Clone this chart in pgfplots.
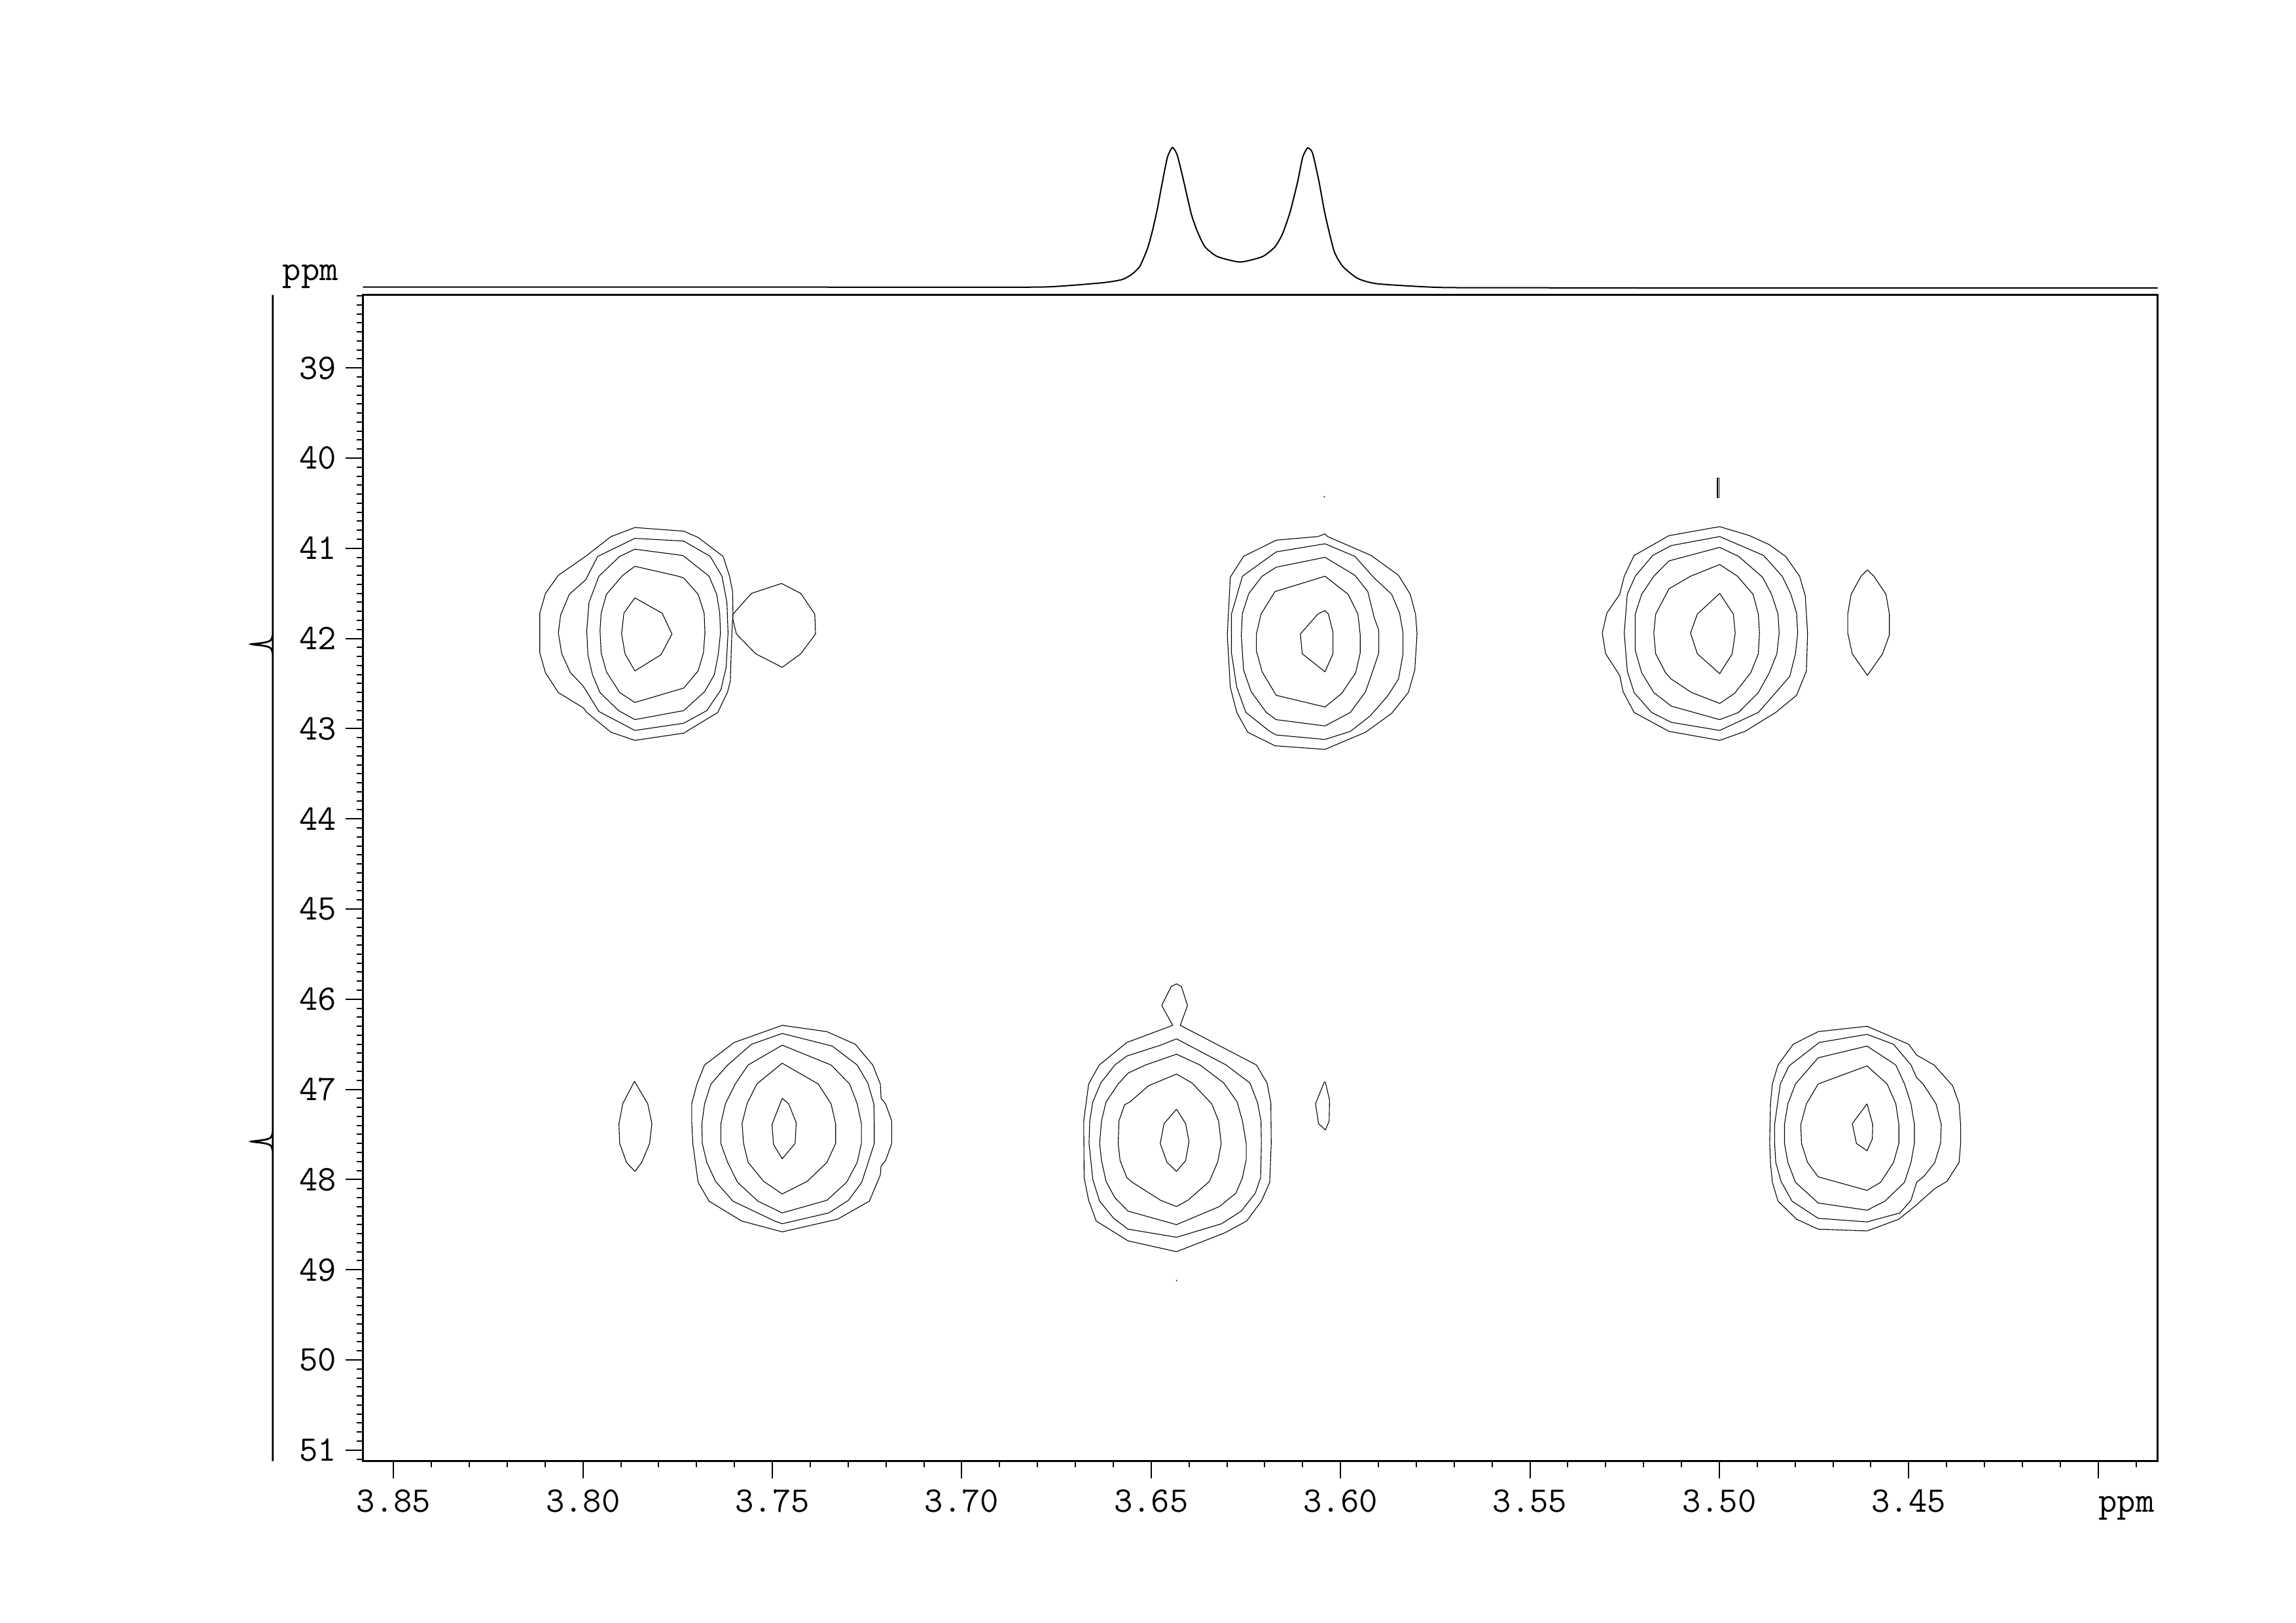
\documentclass[border=0pt]{standalone}
\usepackage{fontspec}
\usepackage{pgfplots}
\pgfplotsset{compat=1.18}
\pgfplotsset{cont/.style={black, line width=0.22pt, mark=none, line join=round}}
\begin{document}
\begin{tikzpicture}[font=\ttfamily\fontsize{11}{13}\selectfont]
\useasboundingbox (-110.9pt,-49.26pt) rectangle (590.7pt,446.54pt);
% ---------------- main 2D axis ----------------
\begin{axis}[at={(0pt,0pt)}, anchor=south west, scale only axis,
  width=548.4pt, height=356.4pt,
  x dir=reverse, y dir=reverse,
  xmin=3.3843, xmax=3.8581, ymin=38.191, ymax=51.123,
  axis line style={line width=0.5pt},
  tick pos=left, tick align=outside,
  major tick length=5.2pt, minor tick length=1.9pt,
  every tick/.style={black, line width=0.4pt},
  xtick={3.40,3.45,3.50,3.55,3.60,3.65,3.70,3.75,3.80,3.85},
  xticklabels={,3.45,3.50,3.55,3.60,3.65,3.70,3.75,3.80,3.85},
  minor xtick={3.39,3.40,...,3.851},
  ytick={39,40,41,42,43,44,45,46,47,48,49,50,51},
  yticklabels={39,40,41,42,43,44,45,46,47,48,49,50,51},
  minor ytick={38.2,38.3,...,51.11},
  xticklabel style={anchor=base, inner sep=0pt, yshift=-10.3pt, font=\ttfamily\fontsize{11}{13}\selectfont},
  yticklabel style={anchor=east, inner sep=0pt, xshift=-2.7pt, font=\ttfamily\fontsize{11}{13}\selectfont},
  clip=false]
% top-left peak
\addplot[cont] coordinates {(3.7863,40.77)(3.7734,40.81)(3.7696,40.88)(3.7630,41.09)(3.7613,41.31)(3.7605,41.48)(3.7604,41.72)(3.7607,41.94)(3.7611,42.47)(3.7618,42.59)(3.7644,42.82)(3.7734,43.05)(3.7863,43.13)(3.7926,43.04)(3.7990,42.82)(3.7999,42.77)(3.8065,42.60)(3.8099,42.38)(3.8114,42.16)(3.8114,41.72)(3.8099,41.50)(3.8065,41.30)(3.7990,41.08)(3.7926,40.87)(3.7863,40.77)};
\addplot[cont] coordinates {(3.7863,40.89)(3.7734,40.92)(3.7664,41.09)(3.7633,41.31)(3.7620,41.60)(3.7617,41.94)(3.7622,42.32)(3.7636,42.57)(3.7673,42.80)(3.7734,42.94)(3.7863,43.02)(3.7958,42.81)(3.7990,42.59)(3.8001,42.52)(3.8033,42.38)(3.8056,42.17)(3.8065,41.94)(3.8059,41.74)(3.8036,41.51)(3.7993,41.35)(3.7961,41.09)(3.7863,40.89)};
\addplot[cont] coordinates {(3.7863,41.01)(3.7736,41.08)(3.7667,41.31)(3.7647,41.51)(3.7639,41.72)(3.7637,41.94)(3.7643,42.18)(3.7653,42.40)(3.7679,42.59)(3.7734,42.80)(3.7863,42.90)(3.7906,42.80)(3.7955,42.60)(3.7975,42.40)(3.7987,42.18)(3.7990,41.91)(3.7984,41.60)(3.7958,41.31)(3.7903,41.09)(3.7863,41.01)};
\addplot[cont] coordinates {(3.7863,41.20)(3.7748,41.31)(3.7734,41.33)(3.7696,41.51)(3.7680,41.72)(3.7678,41.94)(3.7682,42.16)(3.7696,42.36)(3.7734,42.55)(3.7863,42.71)(3.7903,42.60)(3.7938,42.37)(3.7952,42.16)(3.7955,41.91)(3.7952,41.72)(3.7938,41.51)(3.7895,41.30)(3.7863,41.20)};
\addplot[cont] coordinates {(3.7863,41.55)(3.7791,41.72)(3.7765,41.95)(3.7794,42.18)(3.7863,42.36)(3.7889,42.17)(3.7898,41.95)(3.7892,41.72)(3.7863,41.55)};
\addplot[cont] coordinates {(3.7555,41.50)(3.7476,41.39)(3.7425,41.50)(3.7388,41.73)(3.7386,41.95)(3.7425,42.17)(3.7474,42.32)(3.7544,42.17)(3.7595,41.95)(3.7604,41.79)(3.7604,41.73)(3.7555,41.50)};
% top-middle peak
\addplot[cont] coordinates {(3.6041,40.84)(3.6034,40.87)(3.5919,41.08)(3.5847,41.30)(3.5816,41.51)(3.5802,41.73)(3.5798,41.95)(3.5804,42.35)(3.5821,42.60)(3.5865,42.83)(3.5934,43.04)(3.6041,43.23)(3.6173,43.19)(3.6245,43.04)(3.6274,42.82)(3.6291,42.54)(3.6299,41.96)(3.6291,41.32)(3.6256,41.09)(3.6170,40.91)(3.6060,40.87)(3.6041,40.84)};
\addplot[cont] coordinates {(3.6041,40.95)(3.5962,41.09)(3.5911,41.33)(3.5865,41.51)(3.5844,41.72)(3.5835,41.94)(3.5835,42.17)(3.5847,42.45)(3.5876,42.64)(3.5922,42.86)(3.5974,43.03)(3.6041,43.12)(3.6170,43.07)(3.6187,43.03)(3.6250,42.82)(3.6274,42.54)(3.6288,42.16)(3.6288,41.73)(3.6259,41.31)(3.6170,41.04)(3.6041,40.95)};
\addplot[cont] coordinates {(3.6041,41.10)(3.5962,41.30)(3.5928,41.48)(3.5911,41.77)(3.5899,41.91)(3.5899,42.16)(3.5914,42.35)(3.5934,42.59)(3.5974,42.82)(3.6041,42.97)(3.6170,42.90)(3.6196,42.82)(3.6236,42.59)(3.6256,42.35)(3.6262,41.96)(3.6259,41.72)(3.6242,41.50)(3.6207,41.31)(3.6170,41.21)(3.6041,41.10)};
\addplot[cont] coordinates {(3.6041,41.31)(3.5980,41.51)(3.5954,41.73)(3.5948,41.96)(3.5948,42.16)(3.5960,42.38)(3.5997,42.61)(3.6041,42.76)(3.6170,42.63)(3.6207,42.37)(3.6222,42.14)(3.6222,41.95)(3.6210,41.73)(3.6173,41.48)(3.6041,41.31)};
\addplot[cont] coordinates {(3.6041,41.69)(3.6032,41.73)(3.6020,41.93)(3.6020,42.17)(3.6041,42.37)(3.6101,42.17)(3.6106,41.95)(3.6060,41.73)(3.6041,41.69)};
\addplot[cont] coordinates {(3.6044,40.422)(3.6042,40.436)};
% top-right peak
\addplot[cont] coordinates {(3.4999,40.76)(3.4920,40.86)(3.4868,40.96)(3.4825,41.09)(3.4788,41.31)(3.4773,41.53)(3.4767,41.94)(3.4770,42.36)(3.4796,42.63)(3.4851,42.82)(3.4932,43.03)(3.4999,43.13)(3.5133,43.03)(3.5225,42.82)(3.5254,42.59)(3.5263,42.41)(3.5300,42.17)(3.5309,41.94)(3.5297,41.72)(3.5263,41.51)(3.5251,41.31)(3.5225,41.08)(3.5133,40.86)(3.4999,40.76)};
\addplot[cont] coordinates {(3.4999,40.87)(3.4883,41.08)(3.4834,41.31)(3.4811,41.51)(3.4796,41.72)(3.4793,41.94)(3.4799,42.17)(3.4814,42.42)(3.4851,42.60)(3.4897,42.82)(3.4999,43.02)(3.5127,42.93)(3.5179,42.82)(3.5225,42.60)(3.5243,42.36)(3.5251,41.94)(3.5243,41.51)(3.5222,41.31)(3.5176,41.08)(3.5127,40.97)(3.4999,40.87)};
\addplot[cont] coordinates {(3.4999,40.99)(3.4949,41.09)(3.4886,41.32)(3.4862,41.51)(3.4845,41.73)(3.4842,41.94)(3.4848,42.17)(3.4868,42.38)(3.4897,42.60)(3.4949,42.82)(3.4999,42.90)(3.5127,42.75)(3.5173,42.60)(3.5205,42.38)(3.5222,42.13)(3.5222,41.73)(3.5205,41.51)(3.5173,41.31)(3.5133,41.14)(3.4999,40.99)};
\addplot[cont] coordinates {(3.4999,41.18)(3.4952,41.31)(3.4911,41.51)(3.4897,41.73)(3.4894,41.94)(3.4897,42.17)(3.4917,42.38)(3.4960,42.61)(3.4999,42.72)(3.5073,42.60)(3.5127,42.45)(3.5142,42.38)(3.5168,42.17)(3.5173,41.94)(3.5168,41.73)(3.5133,41.45)(3.5076,41.31)(3.4999,41.18)};
\addplot[cont] coordinates {(3.4999,41.50)(3.4963,41.73)(3.4958,41.94)(3.4966,42.17)(3.4999,42.39)(3.5058,42.17)(3.5076,41.94)(3.5058,41.73)(3.4999,41.50)};
\addplot[cont] coordinates {(3.4609,41.24)(3.4592,41.31)(3.4560,41.51)(3.4551,41.73)(3.4551,41.96)(3.4569,42.17)(3.4609,42.41)(3.4649,42.17)(3.4661,41.94)(3.4661,41.73)(3.4652,41.51)(3.4626,41.31)(3.4609,41.24)};
\addplot[cont] coordinates {(3.5005,40.22)(3.5000,40.22)(3.5000,40.44)(3.5005,40.44)(3.5005,40.22)};
% bottom-left peak
\addplot[cont] coordinates {(3.7474,46.29)(3.7356,46.36)(3.7281,46.50)(3.7235,46.73)(3.7215,46.94)(3.7213,47.10)(3.7201,47.16)(3.7185,47.35)(3.7185,47.60)(3.7201,47.79)(3.7213,47.85)(3.7215,47.95)(3.7244,48.24)(3.7328,48.44)(3.7474,48.58)(3.7581,48.46)(3.7667,48.24)(3.7696,48.03)(3.7710,47.60)(3.7713,47.35)(3.7713,47.16)(3.7699,46.94)(3.7679,46.73)(3.7601,46.48)(3.7474,46.29)};
\addplot[cont] coordinates {(3.7474,46.38)(3.7342,46.52)(3.7276,46.73)(3.7248,46.93)(3.7232,47.16)(3.7231,47.38)(3.7231,47.60)(3.7247,47.81)(3.7264,48.03)(3.7299,48.23)(3.7351,48.37)(3.7474,48.49)(3.7494,48.46)(3.7604,48.24)(3.7650,48.02)(3.7673,47.81)(3.7685,47.60)(3.7686,47.38)(3.7679,47.16)(3.7662,46.94)(3.7618,46.73)(3.7555,46.50)(3.7474,46.38)};
\addplot[cont] coordinates {(3.7474,46.51)(3.7345,46.73)(3.7296,46.94)(3.7276,47.16)(3.7265,47.38)(3.7265,47.60)(3.7276,47.81)(3.7304,48.03)(3.7356,48.23)(3.7474,48.37)(3.7538,48.24)(3.7592,48.03)(3.7618,47.81)(3.7636,47.60)(3.7636,47.38)(3.7624,47.16)(3.7598,46.94)(3.7564,46.73)(3.7474,46.51)};
\addplot[cont] coordinates {(3.7474,46.71)(3.7379,46.94)(3.7345,47.16)(3.7333,47.38)(3.7333,47.60)(3.7356,47.81)(3.7408,48.02)(3.7474,48.16)(3.7523,48.02)(3.7564,47.81)(3.7576,47.60)(3.7580,47.38)(3.7567,47.16)(3.7541,46.94)(3.7474,46.71)};
\addplot[cont] coordinates {(3.7474,47.10)(3.7457,47.16)(3.7437,47.37)(3.7440,47.60)(3.7474,47.77)(3.7497,47.61)(3.7501,47.39)(3.7474,47.10)};
\addplot[cont] coordinates {(3.7864,46.91)(3.7829,47.16)(3.7818,47.38)(3.7824,47.60)(3.7845,47.81)(3.7863,47.91)(3.7885,47.81)(3.7903,47.60)(3.7905,47.38)(3.7895,47.16)(3.7864,46.91)};
% bottom-middle peak
\addplot[cont] coordinates {(3.6423,46.29)(3.6222,46.73)(3.6194,46.93)(3.6184,47.15)(3.6183,47.60)(3.6187,48.03)(3.6209,48.24)(3.6248,48.46)(3.6305,48.59)(3.6433,48.80)(3.6561,48.68)(3.6645,48.46)(3.6665,48.23)(3.6677,47.98)(3.6678,47.35)(3.6665,46.94)(3.6637,46.73)(3.6564,46.48)(3.6443,46.29)(3.6472,46.07)(3.6447,45.86)(3.6433,45.83)(3.6420,45.86)(3.6404,46.07)(3.6423,46.29)};
\addplot[cont] coordinates {(3.6433,46.44)(3.6302,46.73)(3.6239,46.93)(3.6219,47.15)(3.6210,47.35)(3.6209,47.60)(3.6211,47.98)(3.6225,48.15)(3.6262,48.35)(3.6314,48.49)(3.6433,48.64)(3.6561,48.55)(3.6599,48.43)(3.6636,48.24)(3.6654,48.00)(3.6664,47.60)(3.6662,47.35)(3.6654,47.14)(3.6633,46.93)(3.6596,46.73)(3.6564,46.63)(3.6475,46.51)(3.6433,46.44)};
\addplot[cont] coordinates {(3.6433,46.61)(3.6371,46.73)(3.6308,46.93)(3.6273,47.14)(3.6259,47.35)(3.6249,47.60)(3.6249,47.78)(3.6259,47.98)(3.6276,48.15)(3.6320,48.30)(3.6433,48.50)(3.6561,48.35)(3.6596,48.20)(3.6619,48.02)(3.6631,47.79)(3.6636,47.60)(3.6631,47.35)(3.6619,47.14)(3.6587,46.94)(3.6561,46.82)(3.6515,46.73)(3.6433,46.61)};
\addplot[cont] coordinates {(3.6433,46.83)(3.6392,46.93)(3.6340,47.16)(3.6322,47.35)(3.6315,47.60)(3.6324,47.80)(3.6346,48.02)(3.6403,48.23)(3.6433,48.30)(3.6475,48.23)(3.6550,48.03)(3.6564,47.98)(3.6582,47.79)(3.6587,47.60)(3.6585,47.35)(3.6570,47.17)(3.6556,47.14)(3.6507,46.96)(3.6433,46.83)};
\addplot[cont] coordinates {(3.6433,47.22)(3.6409,47.38)(3.6400,47.58)(3.6409,47.79)(3.6433,47.91)(3.6458,47.81)(3.6476,47.60)(3.6466,47.38)(3.6433,47.22)};
\addplot[cont] coordinates {(3.6040,46.92)(3.6029,47.12)(3.6030,47.35)(3.6040,47.45)(3.6058,47.38)(3.6066,47.16)(3.6043,46.92)(3.6040,46.92)};
\addplot[cont] coordinates {(3.6434,49.113)(3.6432,49.127)};
% bottom-right peak
\addplot[cont] coordinates {(3.4610,46.30)(3.4500,46.50)(3.4479,46.62)(3.4433,46.73)(3.4384,46.96)(3.4367,47.16)(3.4363,47.39)(3.4363,47.60)(3.4367,47.81)(3.4399,48.02)(3.4431,48.10)(3.4482,48.29)(3.4526,48.44)(3.4610,48.57)(3.4739,48.55)(3.4796,48.44)(3.4845,48.24)(3.4860,48.03)(3.4865,47.81)(3.4867,47.60)(3.4865,47.16)(3.4860,46.94)(3.4845,46.73)(3.4805,46.50)(3.4739,46.36)(3.4610,46.30)};
\addplot[cont] coordinates {(3.4610,46.39)(3.4540,46.50)(3.4494,46.73)(3.4479,46.87)(3.4462,46.94)(3.4428,47.16)(3.4414,47.39)(3.4416,47.60)(3.4431,47.81)(3.4459,47.96)(3.4479,48.03)(3.4494,48.23)(3.4523,48.37)(3.4610,48.47)(3.4739,48.43)(3.4808,48.24)(3.4837,48.02)(3.4851,47.81)(3.4854,47.60)(3.4854,47.39)(3.4839,46.94)(3.4816,46.74)(3.4736,46.48)(3.4610,46.39)};
\addplot[cont] coordinates {(3.4610,46.52)(3.4534,46.73)(3.4511,46.94)(3.4494,47.16)(3.4485,47.39)(3.4485,47.60)(3.4494,47.81)(3.4511,48.03)(3.4563,48.24)(3.4610,48.34)(3.4739,48.26)(3.4799,48.03)(3.4819,47.81)(3.4828,47.60)(3.4828,47.39)(3.4819,47.16)(3.4799,46.94)(3.4739,46.65)(3.4610,46.52)};
\addplot[cont] coordinates {(3.4610,46.74)(3.4557,46.94)(3.4534,47.16)(3.4526,47.39)(3.4526,47.60)(3.4540,47.81)(3.4574,48.03)(3.4610,48.12)(3.4739,47.97)(3.4767,47.81)(3.4783,47.60)(3.4785,47.39)(3.4770,47.16)(3.4739,46.94)(3.4610,46.74)};
\addplot[cont] coordinates {(3.4610,47.16)(3.4595,47.39)(3.4596,47.55)(3.4610,47.68)(3.4638,47.60)(3.4649,47.38)(3.4610,47.16)};
% axis unit labels
\node[anchor=base west, inner sep=0pt, yshift=-15.5pt] at (axis cs:3.40,51.123) {ppm};
\node[anchor=base east, inner sep=0pt, xshift=-7.3pt, yshift=4.5pt] at (axis cs:3.8581,38.191) {ppm};
\end{axis}
% ---------------- top 1D projection ----------------
\begin{axis}[at={(0pt,356.4pt)}, anchor=south west, scale only axis,
  width=548.4pt, height=50pt, x dir=reverse,
  xmin=3.3843, xmax=3.8581, ymin=0, ymax=250,
  axis lines=none, clip=false]
\addplot[black, line width=0.4pt, smooth, tension=0.35, mark=none] coordinates {
(3.8581,12)(3.80,12)(3.75,12)(3.70,11.8)(3.6775,12.3)(3.6629,18.6)(3.6576,23.6)(3.6550,32)(3.6530,43.6)
(3.6510,70.3)(3.6497,97)(3.6484,130.3)(3.6470,173.6)(3.6457,210.3)(3.6444,225.3)(3.6431,213.6)
(3.6414,173.6)(3.6394,123.6)(3.6378,97)(3.6358,73.6)(3.6325,58.6)(3.6265,50.3)(3.6206,58.6)
(3.6173,73.6)(3.6153,93.6)(3.6133,127)(3.6113,173.6)(3.6100,210.3)(3.6087,224.6)(3.6074,217)
(3.6057,173.6)(3.6041,123.6)(3.6017,67)(3.5994,43.6)(3.5955,25.3)(3.5902,17)(3.5738,11.5)
(3.55,11)(3.50,10.5)(3.45,10.5)(3.3843,10.5)};
\end{axis}
% ---------------- left 1D projection ----------------
\begin{axis}[at={(-27.56pt,0pt)}, anchor=south east, scale only axis,
  width=8pt, height=356.4pt, x dir=reverse, y dir=reverse,
  xmin=0, xmax=40, ymin=38.191, ymax=51.123,
  axis lines=none, clip=false]
\addplot[black, line width=0.55pt, smooth, tension=0.5, mark=none] coordinates {
(0,38.191)(0,41.90)(0,41.955)(1.2,41.995)(3.5,42.022)(8.3,42.038)(16.7,42.050)(26.7,42.059)(32.5,42.063)
(26.7,42.070)(16.7,42.078)(8.3,42.090)(3.5,42.106)(1.2,42.133)(0,42.172)(0,42.23)
(0,47.41)(0,47.469)(1.2,47.509)(3.5,47.536)(8.3,47.552)(16.7,47.564)(26.7,47.573)(32.5,47.578)
(26.7,47.585)(16.7,47.593)(8.3,47.605)(3.5,47.621)(1.2,47.648)(0,47.687)(0,47.74)(0,51.123)};
\end{axis}
\end{tikzpicture}
\end{document}
